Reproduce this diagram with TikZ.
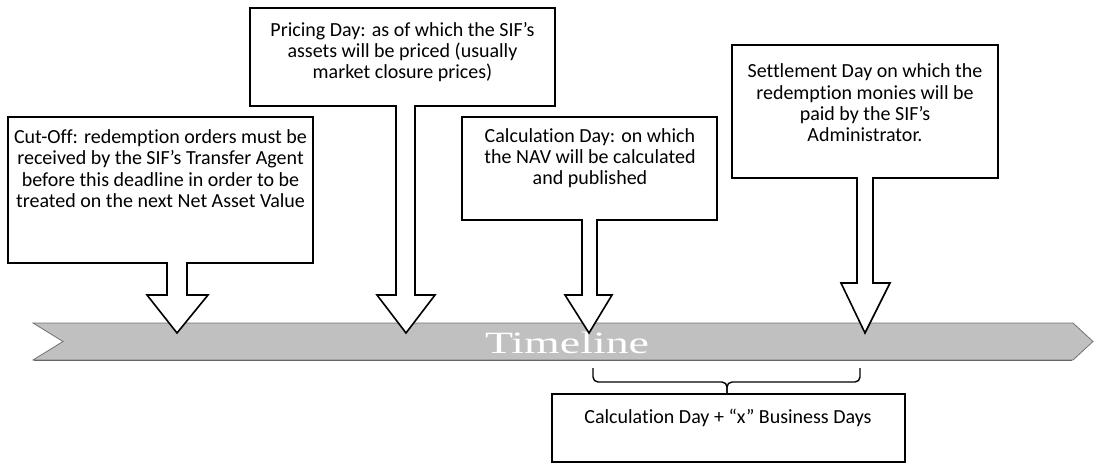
\documentclass[tikz,border=0pt]{standalone}
\usepackage{fontspec}
\setmainfont{Carlito}[Ligatures=NoCommon]
\newfontfamily\tlfont{Liberation Serif}
\definecolor{tlgray}{RGB}{192,192,192}
\begin{document}
\begin{tikzpicture}[x=1pt,y=-1pt,
  callout/.style={draw=black,fill=white,line width=1.6pt,line join=miter},
  lbl/.style={align=center,font=\fontsize{20}{21.3}\selectfont,inner sep=0pt,text=black},
  tlbar/.style={fill=tlgray,draw=black!55,line width=0.8pt},
  bracepath/.style={draw=black,line width=1.4pt,rounded corners=5pt},
]
\useasboundingbox (0,0) rectangle (1094,466);
% timeline bar
\path[tlbar] (33,323) -- (1073,323) -- (1093,341.5) -- (1073,360) -- (33,360) -- (63,341.5) -- cycle;
\draw[black!60,line width=1.4pt] (34,360.3) -- (1072,360.3);
\node[text=white,font=\tlfont\fontsize{31}{31}\selectfont,xscale=1.48,inner sep=0pt] (tl) at (567,343) {Timeline};
% Cut-Off callout
\path[callout] (8,117) -- (313,117) -- (313,263) -- (187,263) -- (187,295) -- (208,295) -- (177,333) -- (147,295) -- (167,295) -- (167,263) -- (8,263) -- cycle;
\node[lbl] (cutoff) at (160.5,168.5) {Cut-Off: redemption orders must be\\received by the SIF’s Transfer Agent\\before this deadline in order to be\\treated on the next Net Asset Value};
% Pricing callout
\path[callout] (250,8) -- (555,8) -- (555,106) -- (415,106) -- (415,295) -- (435,295) -- (406,333) -- (377,295) -- (396,295) -- (396,106) -- (250,106) -- cycle;
\node[lbl] (pricing) at (402.5,52) {Pricing Day: as of which the SIF’s\\assets will be priced (usually\\market closure prices)};
% Calculation callout
\path[callout] (462,117) -- (717,117) -- (717,220) -- (597,220) -- (597,295) -- (612,295) -- (589,333) -- (565,295) -- (582,295) -- (582,220) -- (462,220) -- cycle;
\node[lbl] (calc) at (590,158) {Calculation Day: on which\\the NAV will be calculated\\and published};
% Settlement callout
\path[callout] (732,45) -- (998,45) -- (998,178) -- (873,178) -- (873,283) -- (890,283) -- (865,333) -- (841,283) -- (857,283) -- (857,178) -- (732,178) -- cycle;
\node[lbl] (settle) at (865,103) {Settlement Day on which the\\redemption monies will be\\paid by the SIF’s\\Administrator.};
% brace
\coordinate (bl) at (593,368);
\coordinate (br) at (860,368);
\coordinate (bm) at (727,382);
\coordinate (bt) at (727,394);
\draw[bracepath] (bl) |- (bm) -- (bt);
\draw[bracepath] (br) |- (bm) -- (bt);
% bottom box
\draw[line width=1.6pt] (552,394) rectangle (905,462);
\node[lbl] (bottom) at (728,418) {Calculation Day + “x” Business Days};
\end{tikzpicture}
\end{document}
